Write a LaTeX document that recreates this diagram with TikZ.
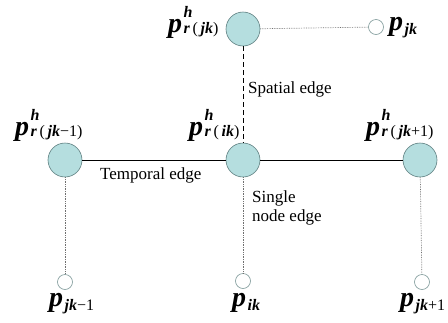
\documentclass[tikz,border=0pt]{standalone}
\usepackage{fontspec}
\setmainfont{LiberationSerif}[Extension=.ttf, UprightFont=*-Regular,
  BoldFont=*-Bold, ItalicFont=*-Italic, BoldItalicFont=*-BoldItalic]
\usetikzlibrary{positioning}
\definecolor{NodeFill}{HTML}{B5DEDF}
\definecolor{NodeLine}{HTML}{5E7F80}
\definecolor{LinkGray}{HTML}{707070}

\newcommand{\bi}[1]{{\bfseries\itshape #1}}
\newcommand{\scr}{\fontsize{16}{16}\selectfont}
\newcommand{\pbig}{{\fontsize{28}{28}\selectfont\bi{p}}}
\newcommand{\phlbl}[1]{\pbig\hspace{1.5pt}\makebox[0pt][l]{\raisebox{15pt}{\scr\bi{h}}}\raisebox{-1.5pt}{\scr\bi{r}\,(\,#1)}}
\newcommand{\plbl}[1]{\pbig\hspace{1.5pt}\raisebox{-4pt}{\scr #1}}

\begin{document}
\begin{tikzpicture}[x=1pt, y=-1pt,
  hidnode/.style={circle, draw=NodeLine, fill=NodeFill, minimum size=34pt,
    inner sep=0pt, line width=0.6pt},
  obsnode/.style={circle, draw=NodeLine!80, fill=white, minimum size=15pt,
    inner sep=0pt, line width=0.6pt},
  plab/.style={inner sep=0pt, anchor=base west},
  etext/.style={inner sep=0pt, anchor=base west,
    font=\fontsize{17}{19}\selectfont, align=left},
  tedge/.style={black, line width=0.8pt},
  sedge/.style={black, line width=0.8pt, dash pattern=on 5pt off 3pt},
  oedge/.style={LinkGray, line width=0.7pt, densely dotted}
]
\useasboundingbox (0,0) rectangle (448,322);

% hidden states
\node[hidnode] (hT) at (243, 29) {};
\node[hidnode] (hL) at (65, 160) {};
\node[hidnode] (hC) at (243, 160) {};
\node[hidnode] (hR) at (420, 160) {};

% observations
\node[obsnode] (oT) at (376, 27) {};
\node[obsnode] (oL) at (65, 282) {};
\node[obsnode] (oC) at (243, 281) {};
\node[obsnode] (oR) at (422, 282) {};

% labels of hidden states
\node[plab] (lT) at (168, 32) {\phlbl{\bi{jk}}};
\node[plab] (lL) at (15, 135) {\phlbl{\bi{jk}−1}};
\node[plab] (lC) at (189, 135) {\phlbl{\bi{ik}}};
\node[plab] (lR) at (366, 135) {\phlbl{\bi{jk}+1}};

% labels of observations
\node[plab] (qT) at (389, 30) {\plbl{\bi{jk}}};
\node[plab] (qL) at (49, 306) {\plbl{\bi{jk}−1}};
\node[plab] (qC) at (232, 306) {\plbl{\bi{ik}}};
\node[plab] (qR) at (400, 306) {\plbl{\bi{jk}+1}};

% edges
\draw[tedge] (hL) -- (hC);
\draw[tedge] (hC) -- (hR);
\draw[sedge] (hT) -- (hC);
\draw[oedge] (hT) -- (oT);
\foreach \a/\b in {hL/oL, hC/oC, hR/oR}{
  \draw[oedge] (\a) -- (\b);
}

% edge texts
\node[etext] (tS) at (248, 93) {Spatial edge};
\node[etext] (tT) at (100, 179) {Temporal edge};
\node[etext] (tN) at (252, 221) {Single\\node edge};

\end{tikzpicture}
\end{document}
